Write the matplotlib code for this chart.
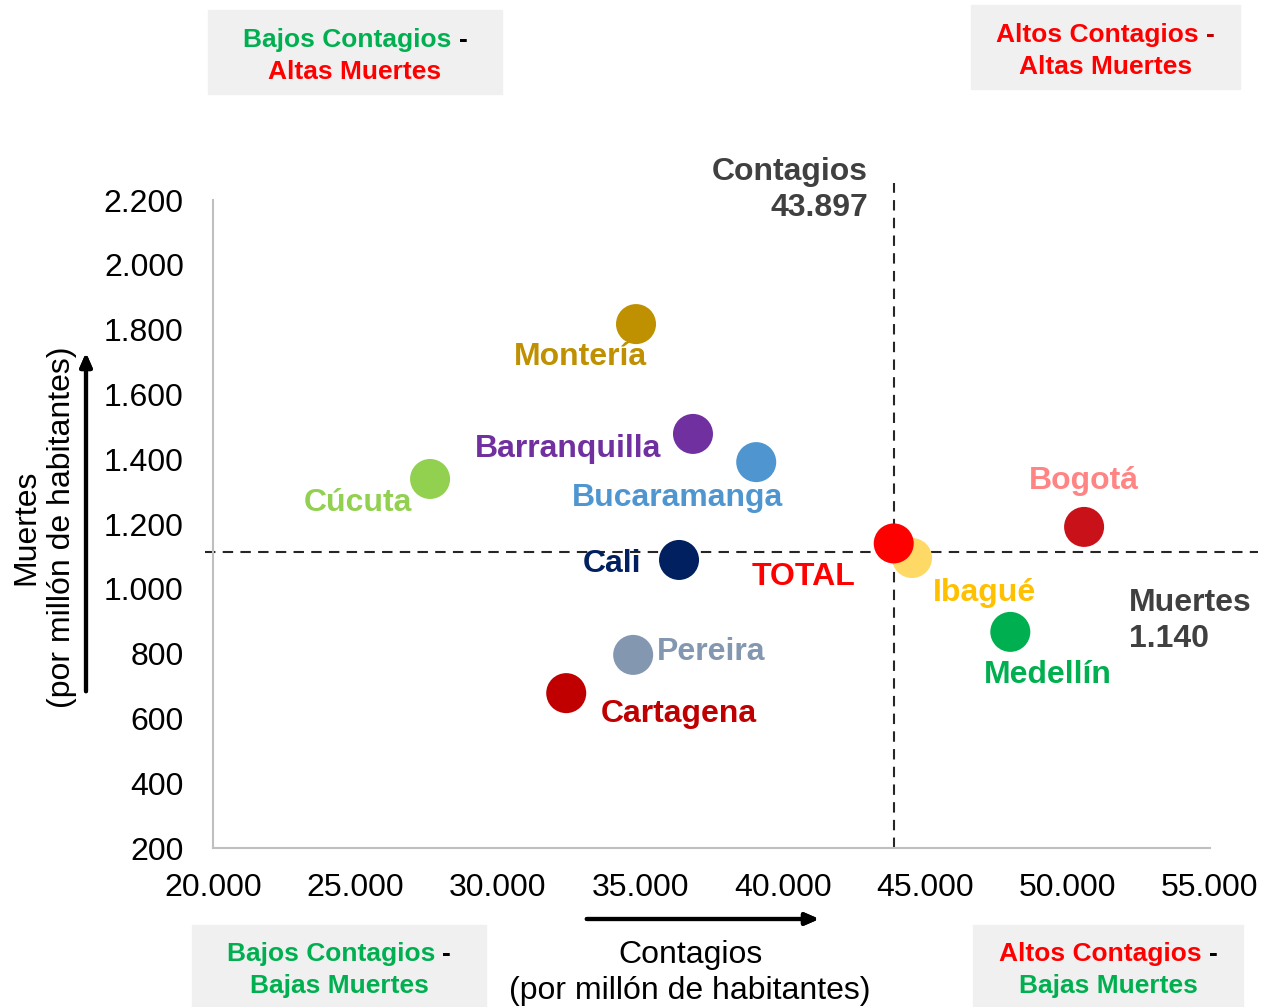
import matplotlib
matplotlib.use('Agg')
import matplotlib.pyplot as plt
from matplotlib.patches import Rectangle
from matplotlib.ticker import FuncFormatter

plt.rcParams['font.family'] = ['Liberation Sans', 'DejaVu Sans']

# datos: contagios y muertes por millón de habitantes
ciudades = ['Montería', 'Barranquilla', 'Bucaramanga', 'Cúcuta', 'Cali',
            'Ibagué', 'TOTAL', 'Bogotá', 'Medellín', 'Pereira', 'Cartagena']
contagios = [34850, 36850, 39070, 27620, 36360, 44540, 43897, 50580, 47990, 34750, 32400]
muertes = [1817, 1478, 1391, 1339, 1089, 1095, 1140, 1191, 867, 796, 678]
color_punto = ['#BF9000', '#7030A0', '#4F96D0', '#92D050', '#002060', '#FFD966',
               '#FF0000', '#C9111A', '#00B050', '#8497B0', '#C00000']
color_texto = ['#BF9000', '#7030A0', '#4F96D0', '#92D050', '#002060', '#FFC000',
               '#FF0000', '#FF8585', '#00B050', '#8497B0', '#C00000']
# desplazamiento de la etiqueta respecto al punto (puntos tipográficos)
offsets = [(-40, -24), (-90, -11), (-57, -26), (-52, -17), (-48, -3), (52, -25),
           (-65, -24), (0, 33), (27, -31), (56, 2), (81, -15)]

ref_contagios = 43897
ref_muertes = 1140
linea_muertes = 1115  # posición en que aparece la línea punteada

W, H = 1266, 1007
fig = plt.figure(figsize=(W / 100, H / 100), dpi=100)
ax = fig.add_axes([213 / W, (H - 848) / H, 997 / W, 648 / H])


def px(x, y):
    return x / W, 1 - y / H


FS = 23
ax.set_xlim(20000, 55000)
ax.set_ylim(200, 2200)
ax.set_xticks(range(20000, 55001, 5000))
ax.set_yticks(range(200, 2201, 200))
fmt = FuncFormatter(lambda v, p: f'{v:,.0f}'.replace(',', '.'))
ax.xaxis.set_major_formatter(fmt)
ax.yaxis.set_major_formatter(fmt)
ax.tick_params(length=0, labelsize=FS, colors='black')
ax.tick_params(axis='y', pad=21)
ax.tick_params(axis='x', pad=18)
for s in ['top', 'right']:
    ax.spines[s].set_visible(False)
for s in ['left', 'bottom']:
    ax.spines[s].set_color('#BFBFBF')
    ax.spines[s].set_linewidth(1.5)

ax.axvline(ref_contagios, ymin=0, ymax=1.026, color='#262626', lw=1.5,
           ls=(0, (5, 3.5)), clip_on=False, zorder=1)
ax.axhline(linea_muertes, xmin=-0.008, xmax=1.048, color='#262626', lw=1.5,
           ls=(0, (5, 3.5)), clip_on=False, zorder=1)

for i, c in enumerate(ciudades):
    ax.scatter(contagios[i], muertes[i], s=830, color=color_punto[i],
               edgecolors='none', zorder=3 + i)
    ax.annotate(c, (contagios[i], muertes[i]), xytext=offsets[i],
                textcoords='offset points', ha='center', va='center',
                fontsize=FS, fontweight='bold', color=color_texto[i], zorder=20)

fig.text(*px(868, 190), f'Contagios\n{ref_contagios:,}'.replace(',', '.'),
         ha='right', va='center', fontsize=FS, fontweight='bold',
         color='#404040', linespacing=1.22)
fig.text(*px(1129, 621), f'Muertes\n{ref_muertes:,}'.replace(',', '.'),
         ha='left', va='center', fontsize=FS, fontweight='bold',
         color='#404040', linespacing=1.22)

# títulos de ejes
fig.text(*px(44, 527), 'Muertes\n(por millón de habitantes)', rotation=90,
         ha='center', va='center', fontsize=FS, linespacing=1.25)
fig.text(*px(690, 973), 'Contagios\n(por millón de habitantes)',
         ha='center', va='center', fontsize=FS, linespacing=1.25)

# flechas
fig.add_artist(plt.annotate('', xy=px(86, 350), xytext=px(86, 694),
                            xycoords='figure fraction', textcoords='figure fraction',
                            arrowprops=dict(arrowstyle='-|>,head_width=0.35,head_length=0.8',
                                            color='black', lw=3)))
fig.add_artist(plt.annotate('', xy=px(822, 919), xytext=px(584, 919),
                            xycoords='figure fraction', textcoords='figure fraction',
                            arrowprops=dict(arrowstyle='-|>,head_width=0.35,head_length=0.8',
                                            color='black', lw=3)))

# cuadros de cuadrantes
VERDE, ROJO = '#00B050', '#FF0000'
cuadros = [
    ((208, 10, 502, 94), [[('Bajos Contagios ', VERDE), ('-', 'black')], [('Altas Muertes', ROJO)]]),
    ((971, 5, 1240, 89), [[('Altos Contagios ', ROJO), ('-', '#C00000')], [('Altas Muertes', ROJO)]]),
    ((192, 925, 486, 1007), [[('Bajos Contagios ', VERDE), ('-', 'black')], [('Bajas Muertes', VERDE)]]),
    ((973, 925, 1243, 1007), [[('Altos Contagios ', ROJO), ('-', 'black')], [('Bajas Muertes', VERDE)]]),
]
renderer = fig.canvas.get_renderer()
for (x0, y0, x1, y1), lineas in cuadros:
    fig.add_artist(Rectangle(px(x0, y1), (x1 - x0) / W, (y1 - y0) / H,
                             transform=fig.transFigure, color='#F0F0F0', zorder=0))
    xc = (x0 + x1) / 2
    yc = (y0 + y1) / 2
    for k, partes in enumerate(lineas):
        yl = yc - 12 + 32 * k
        textos = [fig.text(0, 0, t, color=col, fontsize=19, fontweight='bold', va='center')
                  for t, col in partes]
        anchos = [t.get_window_extent(renderer).width for t in textos]
        x = xc - sum(anchos) / 2
        for t, a in zip(textos, anchos):
            t.set_position(px(x, yl))
            x += a

fig.savefig('out.png', dpi=100)
